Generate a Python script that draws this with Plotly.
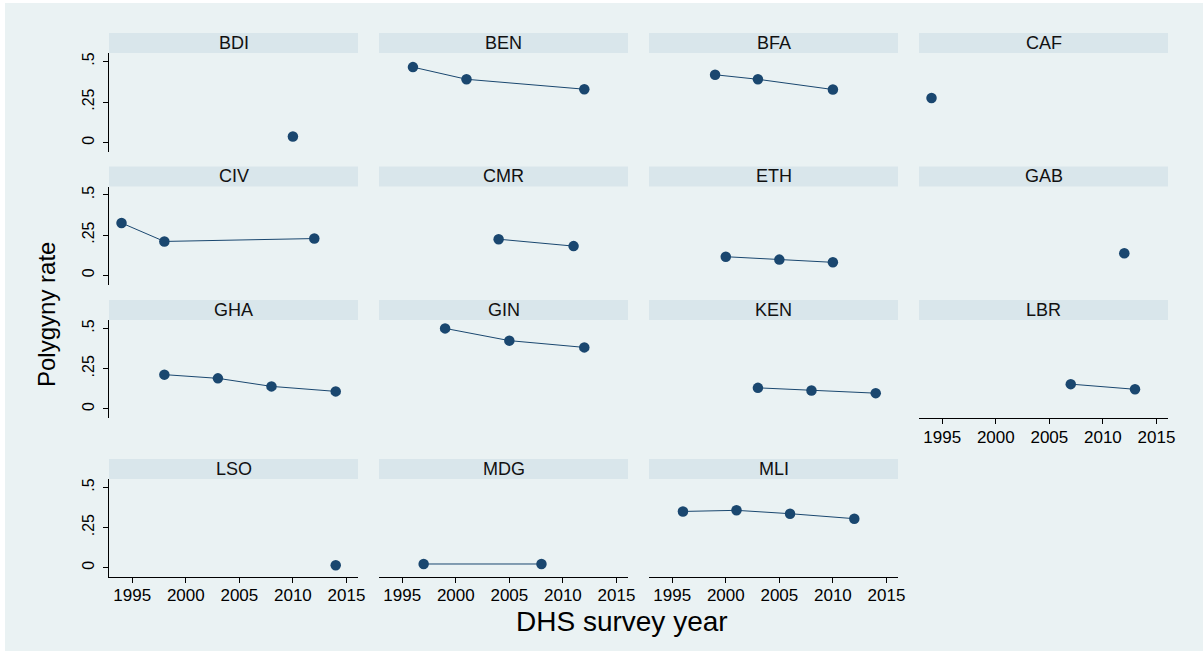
import plotly.graph_objects as go

W, H = 1203, 651

# ---------------- data ----------------
panel_names = ["BDI", "BEN", "BFA", "CAF", "CIV", "CMR", "ETH", "GAB",
               "GHA", "GIN", "KEN", "LBR", "LSO", "MDG", "MLI"]

bdi_year = [2010]
bdi_rate = [0.037]
ben_year = [1996, 2001, 2012]
ben_rate = [0.465, 0.390, 0.329]
bfa_year = [1999, 2003, 2010]
bfa_rate = [0.418, 0.390, 0.327]
caf_year = [1994]
caf_rate = [0.275]
civ_year = [1994, 1998, 2012]
civ_rate = [0.325, 0.210, 0.228]
cmr_year = [2004, 2011]
cmr_rate = [0.224, 0.181]
eth_year = [2000, 2005, 2010]
eth_rate = [0.115, 0.097, 0.080]
gab_year = [2012]
gab_rate = [0.136]
gha_year = [1998, 2003, 2008, 2014]
gha_rate = [0.213, 0.190, 0.140, 0.109]
gin_year = [1999, 2005, 2012]
gin_rate = [0.500, 0.424, 0.382]
ken_year = [2003, 2008, 2014]
ken_rate = [0.131, 0.115, 0.098]
lbr_year = [2007, 2013]
lbr_rate = [0.154, 0.122]
lso_year = [2014]
lso_rate = [0.015]
mdg_year = [1997, 2008]
mdg_rate = [0.023, 0.023]
mli_year = [1996, 2001, 2006, 2012]
mli_rate = [0.350, 0.357, 0.336, 0.305]

panel_years = [bdi_year, ben_year, bfa_year, caf_year, civ_year, cmr_year, eth_year, gab_year,
               gha_year, gin_year, ken_year, lbr_year, lso_year, mdg_year, mli_year]
panel_rates = [bdi_rate, ben_rate, bfa_rate, caf_rate, civ_rate, cmr_rate, eth_rate, gab_rate,
               gha_rate, gin_rate, ken_rate, lbr_rate, lso_rate, mdg_rate, mli_rate]

x_ticks = [1995, 2000, 2005, 2010, 2015]
x_tick_labels = ["1995", "2000", "2005", "2010", "2015"]
y_ticks = [0, 0.25, 0.5]
y_tick_labels = ["0", ".25", ".5"]

# ---------------- styling / layout ----------------
BG = "#EAF2F3"
STRIP = "#D9E6EB"
MARK = "#1A476F"
FONT = "Liberation Sans, Arial, Helvetica, sans-serif"

col_x = [(109, 358), (379, 628), (649, 898), (919, 1168)]
row_y = [(53, 152), (186.5, 284.5), (320, 418.3), (479, 577)]
STRIP_H = 20

def px_x(p):
    return p / W

def px_y(p):
    return 1 - p / H

fig = go.Figure()
shapes = [dict(type="rect", xref="paper", yref="paper", layer="below",
               x0=px_x(5), x1=px_x(W), y0=px_y(H), y1=px_y(3),
               fillcolor=BG, line=dict(width=0))]
annotations = []
layout = {}

n = len(panel_names)
for k in range(n):
    r, c = divmod(k, 4)
    idx = k + 1
    xa = "x" if idx == 1 else f"x{idx}"
    ya = "y" if idx == 1 else f"y{idx}"
    xkey = "xaxis" if idx == 1 else f"xaxis{idx}"
    ykey = "yaxis" if idx == 1 else f"yaxis{idx}"
    x0, x1 = col_x[c]
    y0, y1 = row_y[r]

    bottom = (r == 3) or (c == 3 and r == 2)
    left = (c == 0)

    layout[xkey] = dict(
        domain=[px_x(x0), px_x(x1)], anchor=ya,
        range=[1992.83, 2016.08], showgrid=False, zeroline=False,
        showline=bottom, linecolor="#000000", linewidth=1,
        ticks="outside" if bottom else "", ticklen=5, tickcolor="#000000", tickwidth=1,
        showticklabels=bottom, tickvals=x_ticks, ticktext=x_tick_labels,
        ticklabelstandoff=-2,
        tickfont=dict(family=FONT, size=17, color="#000000"),
        fixedrange=True,
    )
    layout[ykey] = dict(
        domain=[px_y(y1), px_y(y0)], anchor=xa,
        range=[-0.058, 0.552], showgrid=True, gridcolor=BG, gridwidth=1.5,
        zeroline=False,
        showline=left, linecolor="#000000", linewidth=1,
        ticks="outside" if left else "", ticklen=5, tickcolor="#000000", tickwidth=1,
        showticklabels=left, tickvals=y_ticks, ticktext=y_tick_labels,
        tickangle=-90, ticklabelstandoff=3,
        tickfont=dict(family=FONT, size=16, color="#000000"),
        fixedrange=True,
    )

    fig.add_trace(go.Scatter(
        x=panel_years[k], y=panel_rates[k], xaxis=xa, yaxis=ya,
        mode="lines+markers",
        line=dict(color=MARK, width=1),
        marker=dict(color=MARK, size=10.5),
        showlegend=False, hoverinfo="x+y",
    ))

    # strip
    shapes.append(dict(type="rect", xref="paper", yref="paper", layer="below",
                       x0=px_x(x0), x1=px_x(x1), y0=px_y(y0), y1=px_y(y0 - STRIP_H),
                       fillcolor=STRIP, line=dict(width=0)))
    annotations.append(dict(xref="paper", yref="paper",
                            x=px_x((x0 + x1) / 2), y=px_y(y0 - STRIP_H / 2),
                            text=panel_names[k], showarrow=False,
                            xanchor="center", yanchor="middle",
                            font=dict(family=FONT, size=18, color="#111111")))

annotations.append(dict(xref="paper", yref="paper", x=px_x(622), y=px_y(621),
                        text="DHS survey year", showarrow=False,
                        xanchor="center", yanchor="middle",
                        font=dict(family=FONT, size=28, color="#000000")))
annotations.append(dict(xref="paper", yref="paper", x=px_x(46), y=px_y(315),
                        text="Polygyny rate", showarrow=False, textangle=-90,
                        xanchor="center", yanchor="middle",
                        font=dict(family=FONT, size=24, color="#000000")))

fig.update_layout(
    width=W, height=H,
    margin=dict(l=0, r=0, t=0, b=0, autoexpand=False),
    paper_bgcolor="#FFFFFF", plot_bgcolor="#FFFFFF",
    template="none",
    shapes=shapes, annotations=annotations,
    showlegend=False,
    **layout,
)

fig.write_html("out.html", config={"displayModeBar": False})
